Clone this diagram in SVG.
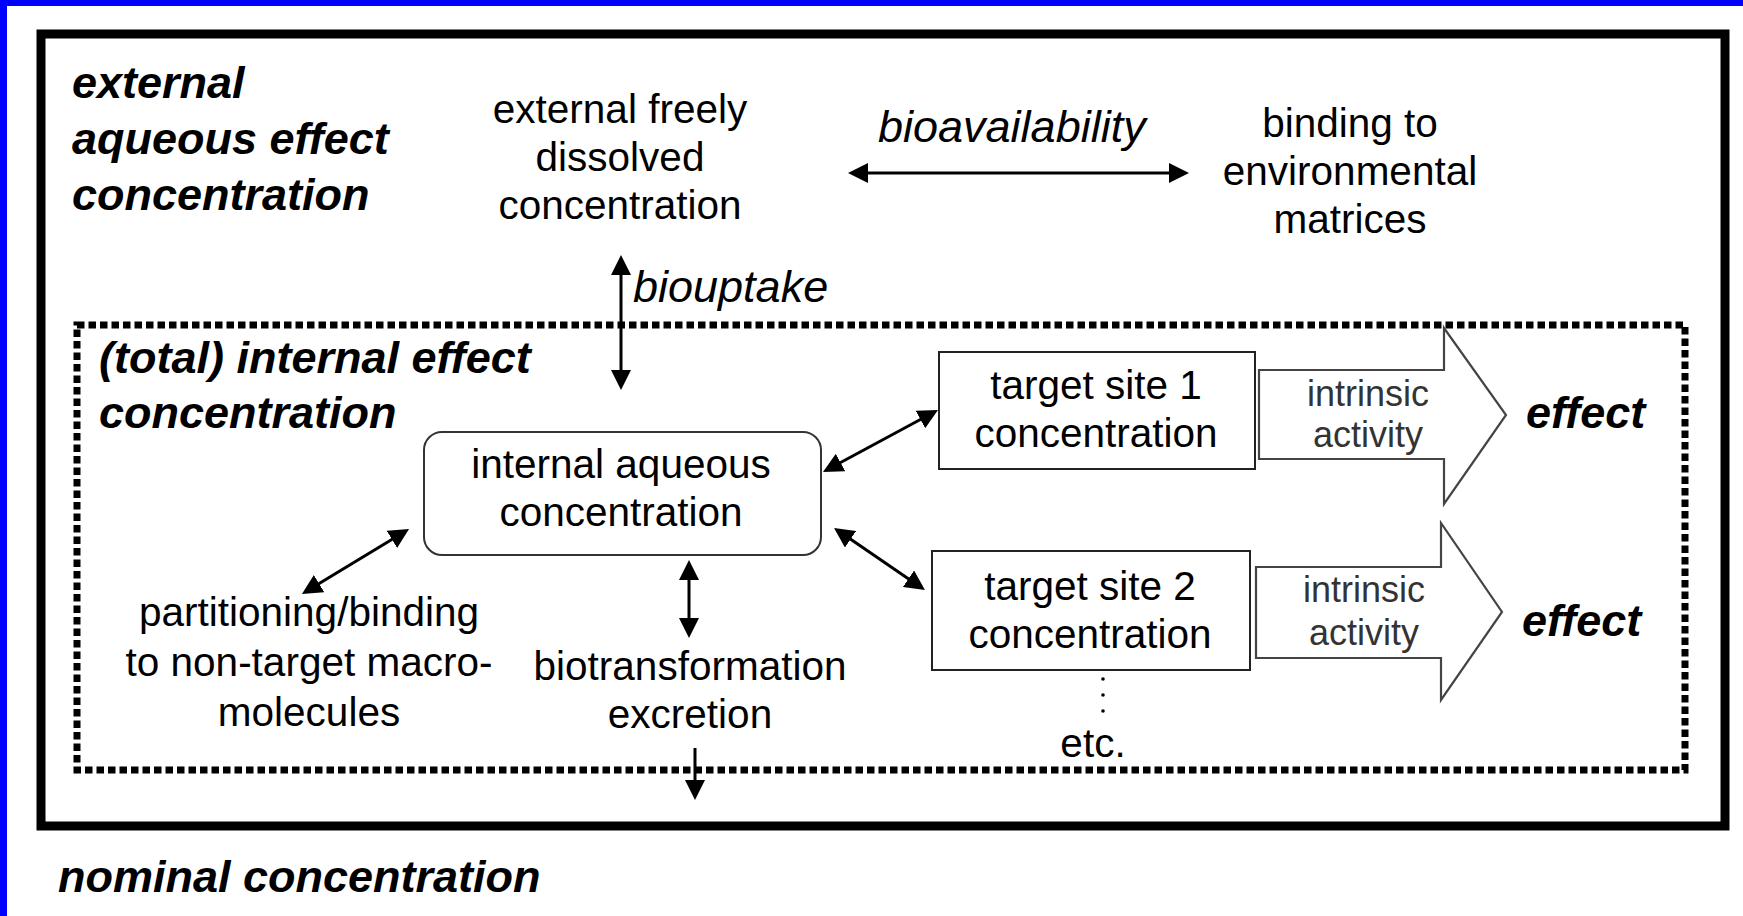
<svg xmlns="http://www.w3.org/2000/svg" width="1743" height="916" viewBox="0 0 1743 916">
<style>
  .reg { font-family: "Liberation Sans", Arial, sans-serif; font-size: 40.5px; fill: #000; }
  .ital { font-family: "Liberation Sans", Arial, sans-serif; font-size: 45px; font-style: italic; fill: #000; }
  .bi { font-family: "Liberation Sans", Arial, sans-serif; font-size: 45px; font-style: italic; font-weight: bold; fill: #000; }
  .small { font-family: "Liberation Sans", Arial, sans-serif; font-size: 36px; fill: #333; }
  .mid { text-anchor: middle; }
  .conn { stroke: #000; stroke-width: 3; fill: none; }
  .box { fill: #fff; stroke: #222; stroke-width: 2; }
  .block { fill: #fff; stroke: #444; stroke-width: 2.2; stroke-linejoin: miter; }
</style>
<defs>
  <marker id="ah" viewBox="0 0 20 20" markerUnits="userSpaceOnUse" markerWidth="20" markerHeight="20" refX="10" refY="10" orient="auto-start-reverse">
    <path d="M0,0 L20,10 L0,20 z" fill="#000"/>
  </marker>
</defs>
<rect x="0" y="0" width="1743" height="916" fill="#fff"/>
<rect x="0" y="0" width="7" height="916" fill="#0000FF"/>
<rect x="0" y="0" width="1743" height="6" fill="#0000FF"/>

<g id="outer-frame">
  <rect x="41" y="34" width="1684" height="792" fill="none" stroke="#000" stroke-width="9"/>
</g>
<g id="internal-region">
  <rect x="77" y="325" width="1608" height="445" fill="none" stroke="#000" stroke-width="7" stroke-dasharray="7.5 4"/>
</g>

<g id="label-external">
  <text class="bi" x="72" y="98">external</text>
  <text class="bi" x="72" y="154">aqueous effect</text>
  <text class="bi" x="72" y="210">concentration</text>
</g>
<g id="node-external-freely">
  <text class="reg mid" x="620" y="123">external freely</text>
  <text class="reg mid" x="620" y="171">dissolved</text>
  <text class="reg mid" x="620" y="219">concentration</text>
</g>
<g id="node-binding">
  <text class="reg mid" x="1350" y="137">binding to</text>
  <text class="reg mid" x="1350" y="185">environmental</text>
  <text class="reg mid" x="1350" y="233">matrices</text>
</g>
<g id="label-internal">
  <text class="bi" x="99" y="373">(total) internal effect</text>
  <text class="bi" x="99" y="428">concentration</text>
</g>
<g id="node-internal-aqueous">
  <rect x="424" y="432" width="397" height="123" rx="18" ry="18" fill="#fff" stroke="#333" stroke-width="2"/>
  <text class="reg mid" x="621" y="478">internal aqueous</text>
  <text class="reg mid" x="621" y="526">concentration</text>
</g>
<g id="node-partitioning">
  <text class="reg mid" x="309" y="626">partitioning/binding</text>
  <text class="reg mid" x="309" y="676">to non-target macro-</text>
  <text class="reg mid" x="309" y="726">molecules</text>
</g>
<g id="node-biotransformation">
  <text class="reg mid" x="690" y="680">biotransformation</text>
  <text class="reg mid" x="690" y="728">excretion</text>
</g>
<g id="node-target1">
  <rect class="box" x="939" y="352" width="316" height="117"/>
  <text class="reg mid" x="1096" y="399">target site 1</text>
  <text class="reg mid" x="1096" y="447">concentration</text>
</g>
<g id="node-target2">
  <rect class="box" x="932" y="551" width="318" height="119"/>
  <text class="reg mid" x="1090" y="600">target site 2</text>
  <text class="reg mid" x="1090" y="648">concentration</text>
</g>
<g id="node-etc">
  <circle cx="1103" cy="679" r="1.8" fill="#000"/>
  <circle cx="1103" cy="695" r="1.8" fill="#000"/>
  <circle cx="1103" cy="711" r="1.8" fill="#000"/>
  <text class="reg mid" x="1093" y="757">etc.</text>
</g>
<g id="node-activity1">
  <polygon class="block" points="1259,370 1444,370 1444,328 1506,415 1444,504 1444,459 1259,459"/>
  <text class="small mid" x="1368" y="406">intrinsic</text>
  <text class="small mid" x="1368" y="447">activity</text>
</g>
<g id="node-activity2">
  <polygon class="block" points="1256,567 1441,567 1441,523 1502,612 1441,700 1441,658 1256,658"/>
  <text class="small mid" x="1364" y="602">intrinsic</text>
  <text class="small mid" x="1364" y="645">activity</text>
</g>
<g id="node-effect1">
  <text class="bi" x="1526" y="428">effect</text>
</g>
<g id="node-effect2">
  <text class="bi" x="1522" y="636">effect</text>
</g>
<g id="label-nominal">
  <text class="bi" x="58" y="892">nominal concentration</text>
</g>

<g id="connectors">
  <line class="conn" x1="858" y1="173" x2="1179" y2="173" marker-start="url(#ah)" marker-end="url(#ah)"/>
  <line class="conn" x1="621" y1="265" x2="621" y2="380" marker-start="url(#ah)" marker-end="url(#ah)"/>
  <line class="conn" x1="400.5" y1="534.2" x2="310.5" y2="588.8" stroke-width="2.5" marker-start="url(#ah)" marker-end="url(#ah)"/>
  <line class="conn" x1="831.8" y1="467.3" x2="929.2" y2="414.7" stroke-width="2.5" marker-start="url(#ah)" marker-end="url(#ah)"/>
  <line class="conn" x1="842.3" y1="533.6" x2="916.7" y2="584.4" stroke-width="2.5" marker-start="url(#ah)" marker-end="url(#ah)"/>
  <line class="conn" x1="689" y1="570" x2="689" y2="628" marker-start="url(#ah)" marker-end="url(#ah)"/>
  <line class="conn" x1="695" y1="748" x2="695" y2="790" marker-end="url(#ah)"/>
  <text class="ital" x="633" y="302">biouptake</text>
  <text class="ital" x="878" y="142">bioavailability</text>
</g>
</svg>
